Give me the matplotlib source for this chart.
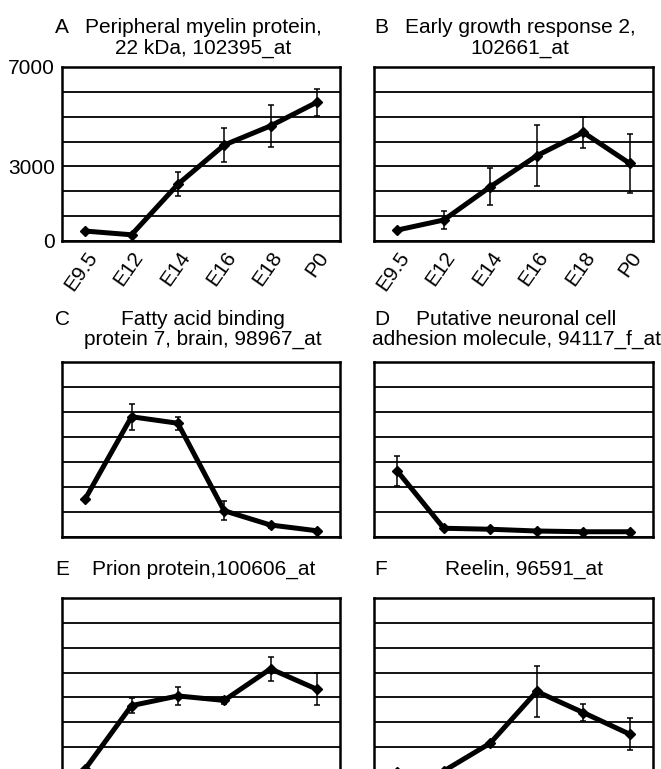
import matplotlib
matplotlib.use('Agg')
import matplotlib.pyplot as plt
import numpy as np

plt.rcParams['font.family'] = ['Liberation Sans', 'DejaVu Sans']

W, H = 661, 769

stages = ['E9.5', 'E12', 'E14', 'E16', 'E18', 'P0']

# expression values
pmp22 = [400, 250, 2280, 3860, 4630, 5580]
pmp22_err = [0, 0, 480, 700, 840, 550]
egr2 = [440, 845, 2180, 3430, 4370, 3120]
egr2_err = [0, 380, 750, 1230, 630, 1200]
fabp7 = [1520, 4810, 4550, 1050, 480, 250]
fabp7_err = [0, 530, 270, 380, 100, 60]
pancam = [2640, 350, 310, 240, 210, 210]
pancam_err = [600, 0, 0, 0, 0, 0]
prion = [120, 2670, 3060, 2880, 4150, 3330]
prion_err = [0, 300, 370, 150, 470, 640]
reelin = [0, 40, 1160, 3240, 2390, 1520]
reelin_err = [0, 0, 0, 1040, 340, 650]

panels = [
    ('A', ['Peripheral myelin protein,', '22 kDa, 102395_at'], pmp22, pmp22_err),
    ('B', ['Early growth response 2,', '102661_at'], egr2, egr2_err),
    ('C', ['Fatty acid binding', 'protein 7, brain, 98967_at'], fabp7, fabp7_err),
    ('D', ['Putative neuronal cell', 'adhesion molecule, 94117_f_at'], pancam, pancam_err),
    ('E', ['Prion protein,100606_at'], prion, prion_err),
    ('F', ['Reelin, 96591_at'], reelin, reelin_err),
]

cols = [(62, 340), (374, 653)]
rows = [(67, 241), (362, 537), (598, 772)]
title_base = [(33, 54), (325, 345), (575,)]
title_cx = [[203, 520], [203, 516], [204, 524]]
letter_x = [55, 374]

fig = plt.figure(figsize=(W / 100, H / 100), dpi=100)
FS = 15

for i, (letter, lines, vals, err) in enumerate(panels):
    r, c = divmod(i, 2)
    x0, x1 = cols[c]
    y0, y1 = rows[r]
    ax = fig.add_axes([x0 / W, 1 - y1 / H, (x1 - x0) / W, (y1 - y0) / H])
    x = np.arange(len(stages))
    vals = np.array(vals)
    err = np.array(err)
    ax.plot(x, vals, color='black', lw=3.6, marker='D', ms=5, zorder=3)
    m = err > 0
    ax.errorbar(x[m], vals[m], yerr=err[m], fmt='none', ecolor='black',
                elinewidth=1.1, capsize=2, capthick=1.1, zorder=3)
    ax.set_xlim(-0.5, 5.5)
    ax.set_ylim(0, 7000)
    ax.set_yticks(range(0, 7001, 1000))
    ax.yaxis.grid(True, color='black', lw=1.3)
    ax.set_axisbelow(True)
    for s in ax.spines.values():
        s.set_linewidth(1.8)
    ax.tick_params(length=0)
    ax.set_xticks(x)
    if r == 0:
        ax.set_xticklabels(stages, rotation=55, ha='right', rotation_mode='anchor',
                           fontsize=FS)
        ax.tick_params(axis='x', pad=5)
    else:
        ax.set_xticklabels([])
    if i == 0:
        ax.set_yticklabels(['0', '', '', '3000', '', '', '', '7000'], fontsize=FS)
        ax.tick_params(axis='y', pad=5)
    else:
        ax.set_yticklabels([])

    bases = title_base[r]
    fig.text(letter_x[c] / W, 1 - bases[0] / H, letter, fontsize=FS,
             ha='left', va='baseline')
    for ln, b in zip(lines, bases):
        fig.text(title_cx[r][c] / W, 1 - b / H, ln, fontsize=FS,
                 ha='center', va='baseline')

fig.savefig('out.png', dpi=100)
